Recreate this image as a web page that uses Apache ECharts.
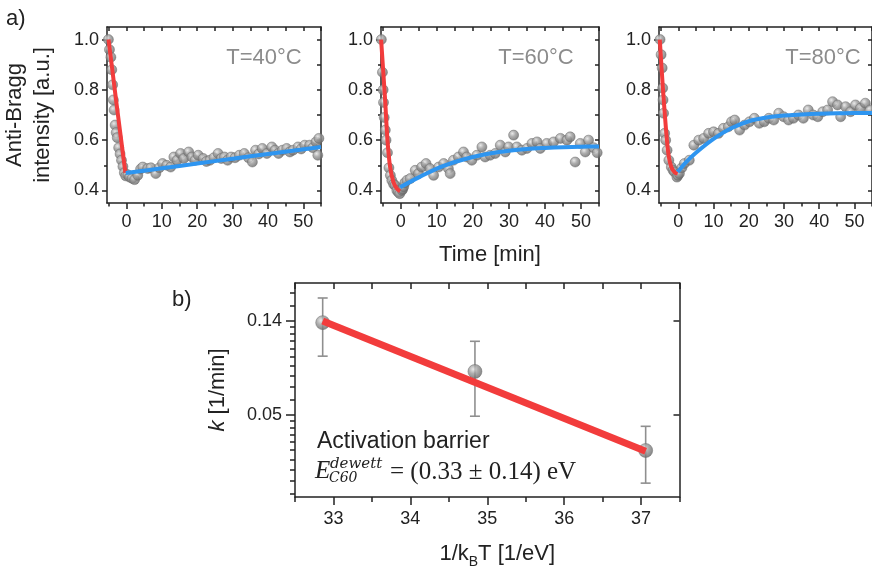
<!DOCTYPE html>
<html><head><meta charset="utf-8">
<script src="https://cdn.jsdelivr.net/npm/echarts@6/dist/echarts.min.js"></script>
<style>html,body{margin:0;padding:0;background:#fff}#c{width:872px;height:570px}</style>
</head><body><div id="c"></div>
<script>
// ---------------- data ----------------
const panelTitles = ['T=40°C', 'T=60°C', 'T=80°C'];
const timeMajorTicks = [0, 10, 20, 30, 40, 50];
const timeMinorTicks = [-5, 5, 15, 25, 35, 45, 55];
const intensityMajorTicks = [0.4, 0.6, 0.8, 1.0];
const intensityMinorTicks = [0.5, 0.7, 0.9];

const decay40 = [[-5.1,1.0],[-4.8,0.96],[-4.4,0.93],[-4.15,0.88],[-3.9,0.82],[-3.7,0.76],[-3.5,0.72],[-3.2,0.66],[-2.9,0.63],[-2.6,0.61],[-2.2,0.57],[-1.8,0.545],[-1.4,0.52],[-1.0,0.495],[-0.6,0.47],[-0.2,0.458]];
const recov40 = [[0.4,0.462],[0.9,0.453],[1.6,0.448],[2.3,0.443],[3.2,0.46],[4.0,0.485],[4.6,0.493],[6.0,0.487],[6.9,0.49],[8.3,0.467],[9.3,0.49],[10.2,0.507],[11.4,0.5],[12.5,0.493],[13.4,0.533],[14.3,0.52],[15.3,0.547],[16.2,0.527],[17.6,0.553],[18.5,0.533],[19.4,0.52],[20.3,0.54],[21.7,0.527],[22.6,0.515],[23.6,0.52],[24.7,0.53],[25.9,0.547],[26.8,0.527],[27.7,0.533],[28.6,0.52],[29.6,0.533],[30.7,0.53],[31.9,0.54],[33.3,0.547],[34.5,0.53],[35.6,0.513],[36.5,0.56],[37.4,0.545],[38.4,0.567],[39.7,0.547],[41.1,0.573],[42.0,0.56],[43.0,0.547],[44.1,0.56],[45.3,0.567],[46.2,0.553],[47.1,0.56],[48.5,0.573],[49.4,0.565],[50.4,0.58],[51.8,0.58],[52.7,0.57],[53.6,0.593],[54.1,0.54],[54.4,0.607]];
const fitRed40 = [[-5.07,1.0],[-2.76,0.74],[-0.3,0.47]];
const fitBlue40 = [[-0.2,0.469],[10,0.488],[20,0.507],[30,0.526],[40,0.545],[55,0.573]];

const decay60 = [[-5.4,1.0],[-5.1,0.87],[-4.9,0.8],[-4.8,0.75],[-4.6,0.69],[-4.3,0.64],[-4.1,0.6],[-3.7,0.55],[-3.3,0.49],[-2.9,0.46],[-2.5,0.44],[-2.0,0.425],[-1.6,0.42],[-1.1,0.40],[-0.7,0.393],[-0.3,0.387]];
const recov60 = [[0.3,0.40],[0.5,0.405],[0.8,0.415],[1.1,0.43],[1.7,0.44],[2.6,0.447],[4.0,0.48],[4.9,0.467],[5.8,0.493],[7.0,0.507],[8.1,0.487],[9.1,0.46],[10.5,0.493],[11.9,0.507],[13.2,0.487],[13.7,0.467],[14.6,0.52],[16.0,0.533],[17.4,0.553],[18.3,0.533],[19.7,0.52],[21.1,0.54],[22.5,0.573],[23.4,0.533],[24.8,0.54],[26.2,0.547],[27.6,0.58],[29.0,0.553],[29.9,0.573],[31.3,0.62],[32.2,0.573],[33.6,0.56],[35.0,0.567],[36.4,0.587],[37.8,0.593],[38.7,0.567],[40.5,0.587],[42.4,0.593],[44.3,0.607],[46.1,0.6],[47.0,0.613],[48.4,0.513],[49.8,0.587],[51.2,0.553],[52.1,0.6],[53.5,0.57],[54.5,0.55]];
const fitRed60 = [[-5.47,1.0],[-4.36,0.76],[-3.7,0.6],[-2.97,0.493],[-2.05,0.433],[-1.1,0.407],[-0.2,0.397]];
const fitBlue60 = [[-0.2,0.413],[5,0.452],[10,0.487],[15,0.513],[20,0.533],[25,0.548],[30,0.558],[35,0.565],[40,0.569],[45,0.572],[50,0.574],[55,0.575]];

const decay80 = [[-5.2,1.0],[-4.9,0.94],[-4.6,0.887],[-4.45,0.807],[-4.35,0.76],[-4.2,0.707],[-3.9,0.627],[-3.6,0.6],[-3.2,0.56],[-2.7,0.52],[-2.0,0.493],[-1.5,0.48],[-1.1,0.473],[-0.4,0.453],[-0.1,0.46]];
const recov80 = [[0.3,0.467],[1.0,0.49],[1.7,0.507],[3.1,0.52],[4.4,0.58],[5.8,0.6],[7.2,0.607],[8.6,0.627],[10.0,0.633],[11.4,0.627],[12.8,0.647],[14.2,0.653],[15.1,0.673],[16.0,0.68],[17.4,0.64],[18.8,0.66],[20.2,0.673],[21.6,0.687],[23.0,0.667],[24.4,0.673],[25.7,0.687],[27.1,0.68],[28.5,0.707],[29.9,0.693],[31.3,0.68],[32.7,0.687],[34.1,0.7],[35.5,0.687],[36.9,0.72],[38.3,0.7],[39.6,0.693],[41.0,0.713],[42.4,0.72],[43.8,0.753],[45.2,0.74],[46.1,0.693],[47.5,0.733],[48.9,0.713],[50.3,0.74],[51.7,0.727],[53.1,0.747],[54.5,0.72]];
const fitRed80 = [[-5.28,1.0],[-4.36,0.8],[-3.25,0.6],[-2.7,0.533],[-2.0,0.493],[-1.1,0.473],[-0.2,0.467]];
const fitBlue80 = [[-0.2,0.473],[2,0.51],[5,0.55],[10,0.605],[15,0.647],[20,0.675],[25,0.69],[30,0.698],[35,0.702],[40,0.705],[45,0.707],[50,0.708],[55,0.708]];

// Arrhenius panel
const invKT = [32.86, 34.84, 37.06];
const rateK = [0.133, 0.079, 0.034];
const rateLow = [0.093, 0.049, 0.024];
const rateHigh = [0.173, 0.109, 0.044];
const fitInvKT = [32.86, 37.06];
const fitRateK = [0.1353, 0.0337];
const invKTMajorTicks = [33, 34, 35, 36, 37];
const invKTMinorTicks = [32.5, 33.5, 34.5, 35.5, 36.5, 37.5];
const rateMajorTicks = [Math.exp(-3), Math.exp(-2)];
const rateMinorTicks = [0.0215,0.0246,0.0278,0.0309,0.0341,0.0372,0.0404,0.0435,0.0467,
  0.0583,0.0669,0.0754,0.084,0.0925,0.101,0.1096,0.118,0.1267,0.1586,0.182];

// ---------------- chart ----------------
const FONT = '"Liberation Sans", Arial, sans-serif';
const SERIF = '"Liberation Serif", "DejaVu Serif", serif';
const WSERIF = '"DejaVu Serif", serif';
const INK = '#222222';
const RED = '#f23c3c';
const BLUE = '#2e95f0';
const ball = {type:'radial', x:0.38, y:0.35, r:0.72, colorStops:[
  {offset:0,color:'#e4e4e4'},{offset:0.4,color:'#9c9c9c'},{offset:1,color:'#5e5e5e'}]};

const grids = [], xAxes = [], yAxes = [], series = [];
const lineSt = {color: INK, width: 1.5};

function ax(o){
  const base = {type:'value', splitLine:{show:false},
    axisLine:{show:false, onZero:false, lineStyle:lineSt},
    axisLabel:{show:false}, axisTick:{show:false}};
  return Object.assign(base, o);
}

const panels = [
  {decay:decay40, recov:recov40, red:fitRed40, blue:fitBlue40},
  {decay:decay60, recov:recov60, red:fitRed60, blue:fitBlue60},
  {decay:decay80, recov:recov80, red:fitRed80, blue:fitBlue80}
];
const gridLefts = [103, 381, 659];

panels.forEach((p, g) => {
  grids.push({left: gridLefts[g], top: 27, width: 218, height: 176});
  const xr = {gridIndex:g, min:-5.5, max:55};
  xAxes.push(ax(Object.assign({}, xr, {position:'bottom',
    axisLine:{show:true, onZero:false, lineStyle:lineSt},
    axisTick:{show:true, customValues: timeMajorTicks, length:6, lineStyle:lineSt},
    axisLabel:{show:true, customValues: timeMajorTicks, fontSize:18, color:INK, fontFamily:FONT, margin:10},
    name: g === 1 ? 'Time [min]' : '', nameLocation:'middle', nameGap:41,
    nameTextStyle:{fontSize:22, color:INK, fontFamily:FONT}})));
  xAxes.push(ax(Object.assign({}, xr, {position:'bottom',
    axisTick:{show:true, customValues: timeMinorTicks, length:3.5, lineStyle:lineSt}})));
  xAxes.push(ax(Object.assign({}, xr, {position:'top',
    axisLine:{show:true, onZero:false, lineStyle:lineSt},
    axisTick:{show:true, inside:true, customValues: timeMajorTicks.concat(timeMinorTicks), length:4, lineStyle:lineSt}})));

  const yr = {gridIndex:g, min:0.35, max:1.05};
  yAxes.push(ax(Object.assign({}, yr, {position:'left',
    axisLine:{show:true, onZero:false, lineStyle:lineSt},
    axisTick:{show:true, customValues: intensityMajorTicks, length:5, lineStyle:lineSt},
    axisLabel:{show:true, customValues: intensityMajorTicks, formatter:v=>v.toFixed(1), fontSize:18, color:INK, fontFamily:FONT, margin:8},
    name: g === 0 ? 'Anti-Bragg\nintensity [a.u.]' : '', nameLocation:'middle', nameRotate:90, nameGap:50,
    nameTextStyle:{fontSize:22, lineHeight:28, color:INK, fontFamily:FONT}})));
  yAxes.push(ax(Object.assign({}, yr, {position:'left',
    axisTick:{show:true, customValues: intensityMinorTicks, length:3, lineStyle:lineSt}})));
  yAxes.push(ax(Object.assign({}, yr, {position:'right',
    axisLine:{show:true, onZero:false, lineStyle:lineSt},
    axisTick:{show:true, inside:true, customValues: intensityMajorTicks.concat(intensityMinorTicks), length:4, lineStyle:lineSt}})));

  const xi = g*3, yi = g*3;
  series.push({type:'scatter', xAxisIndex:xi, yAxisIndex:yi, data:p.decay.concat(p.recov),
    symbolSize:10, itemStyle:{color:ball, borderColor:'#6a6a6a', borderWidth:0.6}, z:2, silent:true});
  series.push({type:'line', xAxisIndex:xi, yAxisIndex:yi, data:p.red, smooth:0.35, symbol:'none',
    lineStyle:{color:RED, width:4}, z:3, silent:true});
  series.push({type:'line', xAxisIndex:xi, yAxisIndex:yi, data:p.blue, smooth:0.35, symbol:'none',
    lineStyle:{color:BLUE, width:4}, z:3, silent:true});
});

// bottom Arrhenius panel
grids.push({left:295, top:283, width:384.5, height:217});
const bx = {gridIndex:3, min:32.5, max:37.5};
xAxes.push(ax(Object.assign({}, bx, {position:'bottom',
  axisLine:{show:true, onZero:false, lineStyle:lineSt},
  axisTick:{show:true, customValues: invKTMajorTicks, length:8, lineStyle:lineSt},
  axisLabel:{show:true, customValues: invKTMajorTicks, fontSize:18, color:INK, fontFamily:FONT, margin:13},
  name:'1/k{sub|B}T [1/eV]', nameLocation:'middle', nameGap:42,
  nameTextStyle:{fontSize:22, lineHeight:30, color:INK, fontFamily:FONT, padding:[0,0,0,20],
    rich:{sub:{fontSize:14, lineHeight:14, verticalAlign:'bottom', color:INK, fontFamily:FONT}}}})));
xAxes.push(ax(Object.assign({}, bx, {position:'bottom',
  axisTick:{show:true, customValues: invKTMinorTicks, length:5, lineStyle:lineSt}})));
xAxes.push(ax(Object.assign({}, bx, {position:'top',
  axisLine:{show:true, onZero:false, lineStyle:lineSt},
  axisTick:{show:true, inside:true, customValues: invKTMajorTicks.concat(invKTMinorTicks), length:6, lineStyle:lineSt}})));
const by = {gridIndex:3, type:'log', logBase:Math.E, min:0.0207, max:0.203};
yAxes.push(ax(Object.assign({}, by, {position:'left',
  axisLine:{show:true, onZero:false, lineStyle:lineSt},
  axisTick:{show:true, customValues: rateMajorTicks, length:9, lineStyle:lineSt},
  axisLabel:{show:true, customValues: rateMajorTicks, formatter:v=>v.toFixed(2), fontSize:18, color:INK, fontFamily:FONT, margin:13},
  name:'{i|k} [1/min]', nameLocation:'middle', nameRotate:90, nameGap:66,
  nameTextStyle:{fontSize:22, color:INK, fontFamily:FONT,
    rich:{i:{fontSize:22, fontStyle:'italic', color:INK, fontFamily:FONT}}}})));
yAxes.push(ax(Object.assign({}, by, {position:'left',
  axisTick:{show:true, customValues: rateMinorTicks, length:5, lineStyle:lineSt}})));
yAxes.push(ax(Object.assign({}, by, {position:'right',
  axisLine:{show:true, onZero:false, lineStyle:lineSt},
  axisTick:{show:true, inside:true, customValues: rateMajorTicks, length:6, lineStyle:lineSt}})));

series.push({type:'custom', xAxisIndex:9, yAxisIndex:9,
  data: invKT.map((x,i)=>[x, rateLow[i], rateHigh[i]]),
  encode:{x:0, y:[1,2]}, z:1, silent:true,
  renderItem:(params, api)=>{
    const lo = api.coord([api.value(0), api.value(1)]);
    const hi = api.coord([api.value(0), api.value(2)]);
    const w = 5, st = {stroke:'#8f8f8f', lineWidth:1.6};
    return {type:'group', children:[
      {type:'line', shape:{x1:lo[0],y1:lo[1],x2:hi[0],y2:hi[1]}, style:st},
      {type:'line', shape:{x1:lo[0]-w,y1:lo[1],x2:lo[0]+w,y2:lo[1]}, style:st},
      {type:'line', shape:{x1:hi[0]-w,y1:hi[1],x2:hi[0]+w,y2:hi[1]}, style:st}
    ]};
  }});
series.push({type:'scatter', xAxisIndex:9, yAxisIndex:9, data: invKT.map((x,i)=>[x, rateK[i]]),
  symbolSize:14, itemStyle:{color:ball, borderColor:'#6a6a6a', borderWidth:0.6}, z:2, silent:true});
series.push({type:'line', xAxisIndex:9, yAxisIndex:9, data: fitInvKT.map((x,i)=>[x, fitRateK[i]]),
  symbol:'none', lineStyle:{color:RED, width:7}, z:3, silent:true});

const titleCenters = [[264,58],[536,58],[823,58]];
const graphic = [
  {type:'text', x:6, y:19, style:{text:'a)', font:'22px '+FONT, fill:INK, textVerticalAlign:'middle'}},
  {type:'text', x:172, y:300, style:{text:'b)', font:'22px '+FONT, fill:INK, textVerticalAlign:'middle'}},
  {type:'text', x:317, y:442, style:{text:'Activation barrier', font:'23px '+FONT, fill:INK, textVerticalAlign:'middle'}},
  {type:'text', x:315, y:471, style:{text:'E', font:'italic 25px '+SERIF, fill:INK, textVerticalAlign:'middle'}},
  {type:'text', x:330, y:464, style:{text:'dewett', font:'italic 15px '+WSERIF, fill:INK, textVerticalAlign:'middle'}},
  {type:'text', x:329, y:478, style:{text:'C60', font:'italic 14px '+WSERIF, fill:INK, textVerticalAlign:'middle'}},
  {type:'text', x:390, y:472, style:{text:'= (0.33 \u00b1 0.14) eV', font:'25px '+SERIF, fill:INK, textVerticalAlign:'middle'}}
].concat(panelTitles.map((t,i)=>({type:'text', x:titleCenters[i][0], y:titleCenters[i][1],
  style:{text:t, font:'22px '+FONT, fill:'#8c8c8c', textAlign:'center', textVerticalAlign:'middle'}})));

const chart = echarts.init(document.getElementById('c'));
chart.setOption({animation:false, backgroundColor:'#fff', grid:grids, xAxis:xAxes, yAxis:yAxes, series:series, graphic:graphic});
</script>
</body></html>
